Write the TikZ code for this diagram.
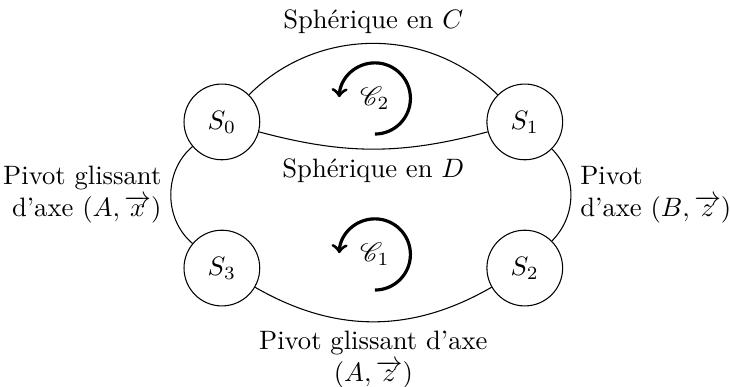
\documentclass[tikz,border=0pt]{standalone}
\usepackage{fontspec}
\usepackage{amsmath,amssymb,mathrsfs}
\usepackage{tikz}

\begin{document}
\begin{tikzpicture}[state/.style={draw,circle,minimum size=1cm},
    cycle arrow/.style={->,very thick}]
        \useasboundingbox (-2.93,-1.57) rectangle (6.71,3.54);
        \node[state] (S0) at (0,1.93) {$S_0$};
        \node[state] (S1) at (4,1.93) {$S_1$};
        \node[state] (S2) at (4,0) {$S_2$};
        \node[state] (S3) at (0,0) {$S_3$};
        \draw (S0) to[bend left=45] node[above] {Sphérique en $C$} (S1);
        \draw (S0) to[bend right=15] node[below] {Sphérique en $D$} (S1);
        \draw (S0) to[bend right=50] node[left,align=right] {Pivot glissant\\ d'axe $(A,\overrightarrow{x})$} (S3);
        \draw (S1) to[bend left=45] node[right,align=left] {Pivot\\ d'axe $(B,\overrightarrow{z})$} (S2);
        \draw (S3) to[bend right=30] node[below,align=center] {Pivot glissant d'axe\\ $(A,\overrightarrow{z})$} (S2);
        % cycles
        \node (C2) at (2.02,2.24) {$\mathscr{C}_2$};
        \node (C1) at (2.02,0.18) {$\mathscr{C}_1$};
        \foreach \c in {C1,C2}
            \draw[cycle arrow] (\c.center) ++(0,-0.47) arc (-90:178:0.47);
      \end{tikzpicture}
\end{document}
